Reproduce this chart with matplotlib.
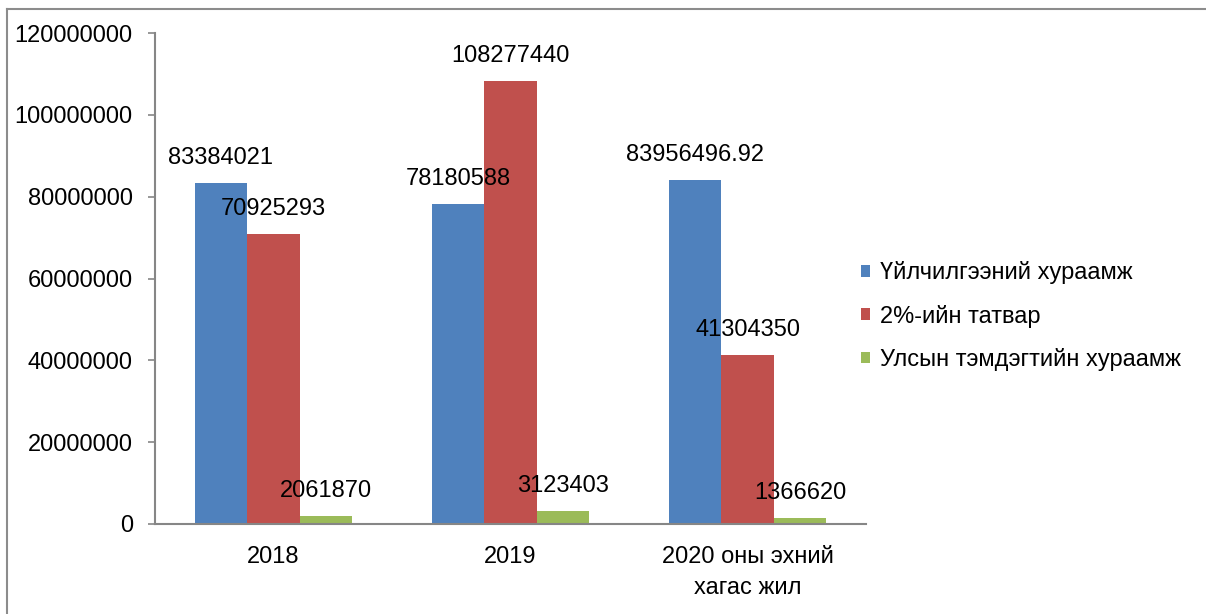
import matplotlib
matplotlib.use('Agg')
import matplotlib.pyplot as plt
import matplotlib.ticker as ticker
from matplotlib.lines import Line2D
import numpy


# ========================== DATA ==========================
CATEGORIES = ['2018', '2019', '2020 оны эхний\nхагас жил']

SERIES_NAMES = [
    'Үйлчилгээний хураамж',
    '2%-ийн татвар',
    'Улсын тэмдэгтийн хураамж',
]

SERVICE_FEE = [83384021, 78180588, 83956496.92]
TAX_2PCT = [70925293, 108277440, 41304350]
STAMP_FEE = [2061870, 3123403, 1366620]

SERIES_COLORS = ['#4F81BD', '#C0504D', '#9BBB59']
Y_TICKS = [0, 20000000, 40000000, 60000000, 80000000, 100000000, 120000000]
# ==========================================================

W, H = 1206, 614

plt.rcParams['font.family'] = ['Liberation Sans', 'DejaVu Sans']

fig = plt.figure(figsize=(W / 100, H / 100), dpi=100)
ax = fig.add_axes([155 / W, 1 - 524 / H, (866 - 155) / W, (524 - 33) / H])


def fmt_value(v):
    return f'{v:.2f}'.rstrip('0').rstrip('.')


x = numpy.arange(len(CATEGORIES))
bar_width = 0.222
series = [SERVICE_FEE, TAX_2PCT, STAMP_FEE]

for i, (values, name, color) in enumerate(zip(series, SERIES_NAMES, SERIES_COLORS)):
    positions = x + (i - 1) * bar_width
    ax.bar(positions, values, width=bar_width, color=color, label=name,
           edgecolor='none', zorder=2)
    for px, v in zip(positions, values):
        ax.annotate(fmt_value(v), xy=(px, v), xytext=(0, 18),
                    textcoords='offset points', ha='center', va='center',
                    fontsize=17, color='black', zorder=3)

ax.set_xlim(-0.5, len(CATEGORIES) - 0.5)
ax.set_ylim(0, 120000000)
ax.set_yticks(Y_TICKS)
ax.yaxis.set_major_formatter(ticker.FuncFormatter(lambda v, p: f'{int(v)}'))
ax.set_xticks(x)
ax.set_xticklabels(CATEGORIES, linespacing=1.5)

ax.tick_params(axis='y', direction='out', length=5, width=1.2,
               color='#868686', labelsize=17, pad=11)
ax.tick_params(axis='x', length=0, labelsize=17, pad=16)

for side in ['top', 'right']:
    ax.spines[side].set_visible(False)
for side in ['left', 'bottom']:
    ax.spines[side].set_color('#868686')
    ax.spines[side].set_linewidth(1.5)

ax.legend(loc='center left', bbox_to_anchor=(861 / W, 1 - 316 / H),
          bbox_transform=fig.transFigure, frameon=False, fontsize=17,
          handlelength=0.38, handleheight=0.38, handletextpad=0.42,
          labelspacing=0.86, borderpad=0, borderaxespad=0)

# outer chart-area border (left and top edges visible)
border_color = '#8C8C8C'
fig.add_artist(Line2D([7 / W, 7 / W], [0, 1 - 9 / H], color=border_color,
                      linewidth=1.5, transform=fig.transFigure))
fig.add_artist(Line2D([7 / W, 1], [1 - 9 / H, 1 - 9 / H], color=border_color,
                      linewidth=1.5, transform=fig.transFigure))

fig.savefig('out.png', dpi=100)
